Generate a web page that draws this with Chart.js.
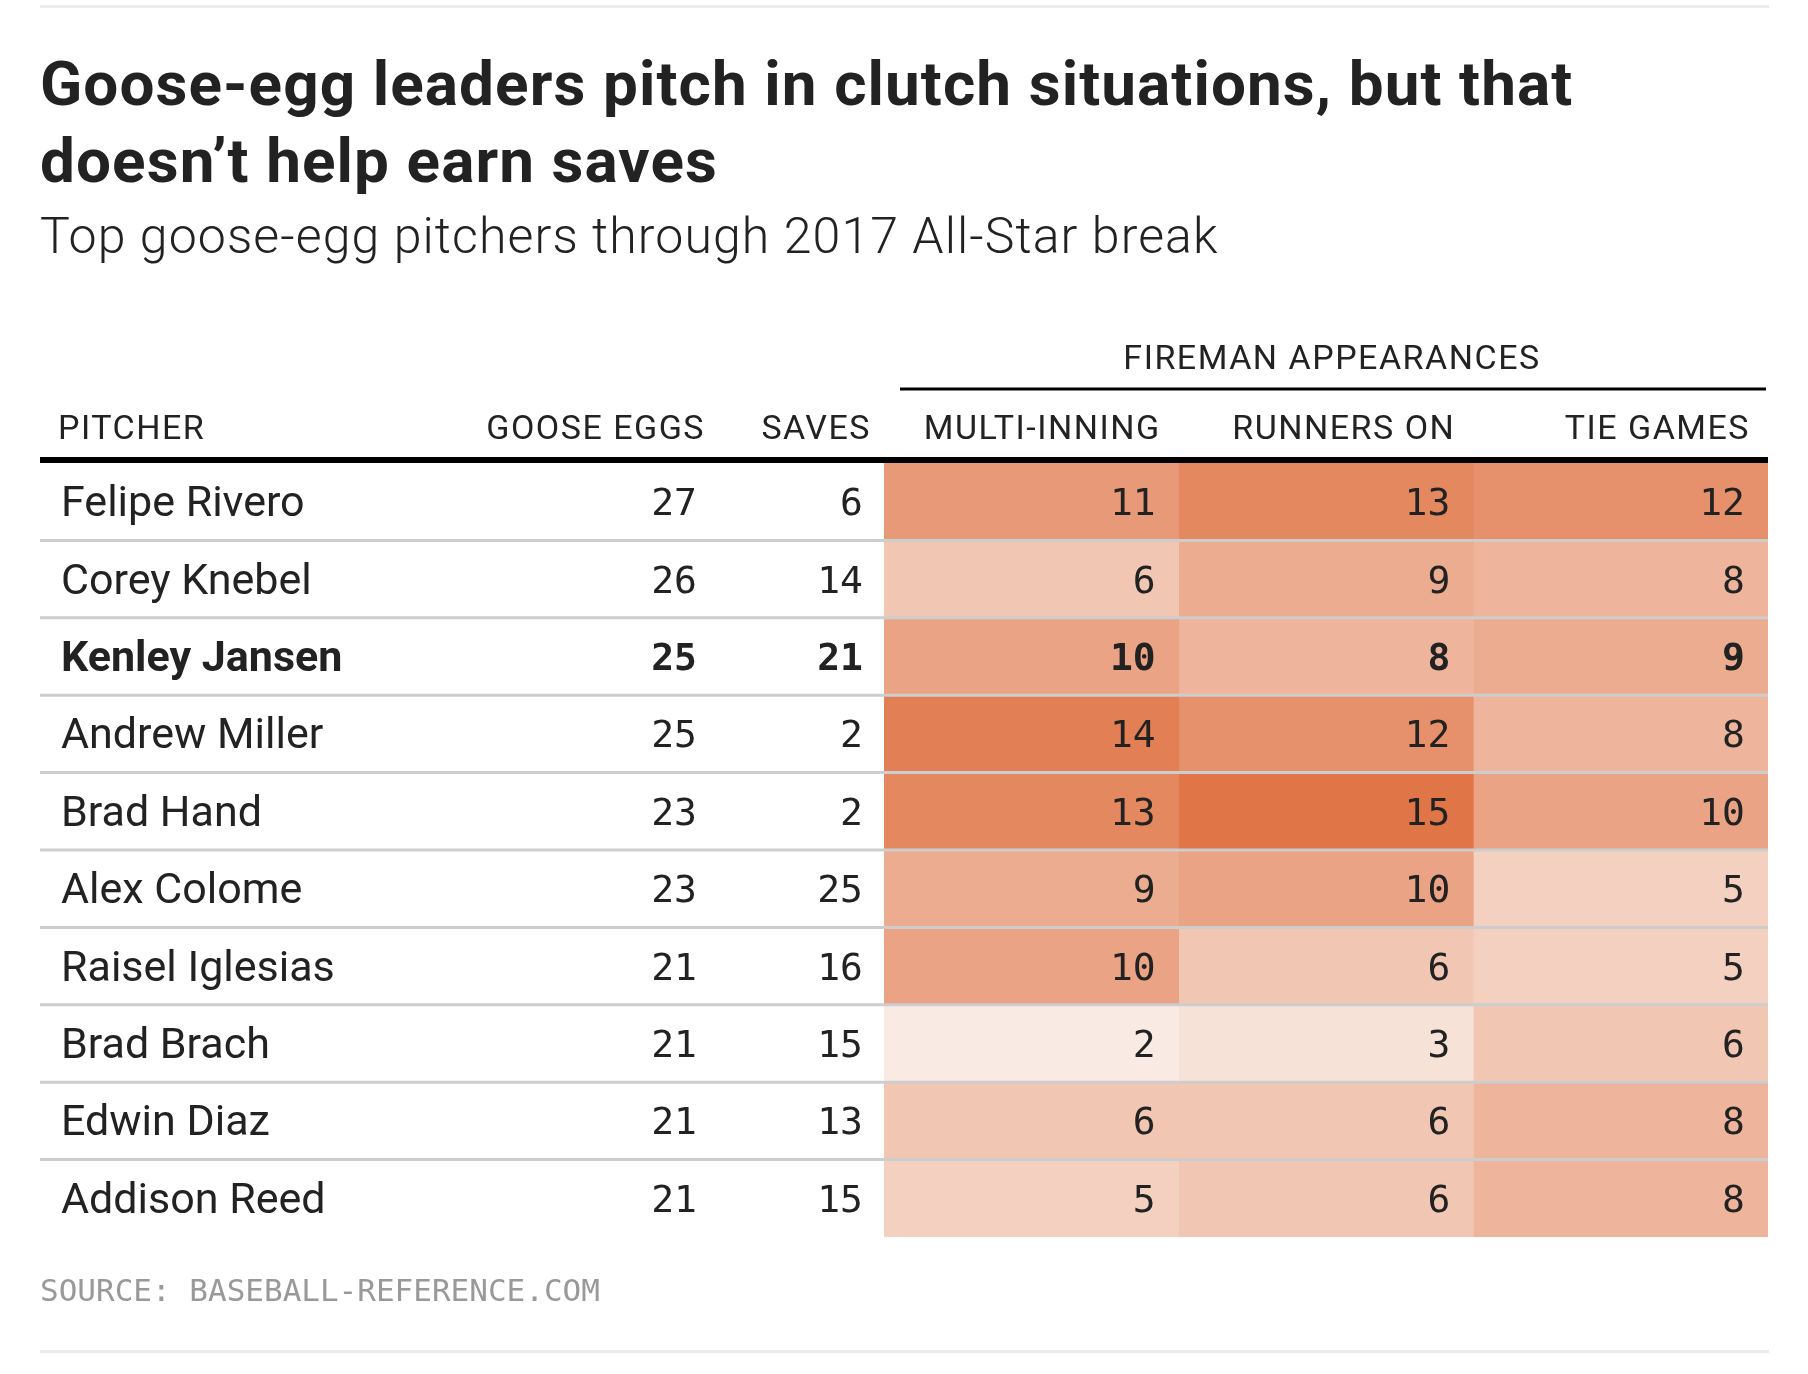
<!DOCTYPE html>
<html>
<head>
<meta charset="utf-8">
<script src="https://cdn.jsdelivr.net/npm/chart.js@4/dist/chart.umd.min.js"></script>
<style>
  html, body { margin: 0; padding: 0; background: #fff; }
  #page { position: relative; width: 1808px; height: 1374px; overflow: hidden; }
  #chartBox { position: absolute; left: 0; top: 0; width: 1808px; height: 1374px; }
  .rule { position: absolute; left: 40px; width: 1729px; height: 3px; background: #ececec; }
  h1 {
    position: absolute; left: 40px; top: 45px; margin: 0; width: 1760px;
    font: 700 62px/77px Roboto, sans-serif; letter-spacing: 1.1px; color: #222;
  }
  h2 {
    position: absolute; left: 40px; top: 206px; margin: 0;
    font: 300 50px/60px Roboto, sans-serif; letter-spacing: 1.1px; color: #222;
  }
  .source {
    position: absolute; left: 40px; top: 1272px; margin: 0;
    font: 400 31px/36px "DejaVu Sans Mono", monospace; color: #999;
  }
</style>
</head>
<body>
<div id="page">
  <div id="chartBox"><canvas id="gooseChart"></canvas></div>
  <div class="rule" style="top:5px"></div>
  <h1>Goose-egg leaders pitch in clutch situations, but that<br>doesn’t help earn saves</h1>
  <h2>Top goose-egg pitchers through 2017 All-Star break</h2>
  <div class="source">SOURCE: BASEBALL-REFERENCE.COM</div>
  <div class="rule" style="top:1350px"></div>
</div>
<script>
// table data
const pitchers = ['Felipe Rivero', 'Corey Knebel', 'Kenley Jansen', 'Andrew Miller', 'Brad Hand',
                  'Alex Colome', 'Raisel Iglesias', 'Brad Brach', 'Edwin Diaz', 'Addison Reed'];
const gooseEggs = [27, 26, 25, 25, 23, 23, 21, 21, 21, 21];
const saves = [6, 14, 21, 2, 2, 25, 16, 15, 13, 15];
const multiInning = [11, 6, 10, 14, 13, 9, 10, 2, 6, 5];
const runnersOn = [13, 9, 8, 12, 15, 10, 6, 3, 6, 6];
const tieGames = [12, 8, 9, 8, 10, 5, 5, 6, 8, 8];
const highlighted = 'Kenley Jansen';

const groupLabel = 'FIREMAN APPEARANCES';
const fireHeaders = ['MULTI-INNING', 'RUNNERS ON', 'TIE GAMES'];
const fireColumns = [multiInning, runnersOn, tieGames];

const maxVal = Math.max(...multiInning, ...runnersOn, ...tieGames);
const lowColor = [253, 253, 252];
const highColor = [224, 118, 72];

function heatColor(v) {
    var t = v / maxVal;
    var c = lowColor.map((lo, i) => Math.round(lo + (highColor[i] - lo) * t));
    return 'rgb(' + c.join(',') + ')';
}

const textColor = '#222';
const nameFont = (bold) => (bold ? '700 ' : '400 ') + '43px Roboto, sans-serif';
const numFont = (bold) => (bold ? '700 ' : '400 ') + '38px "DejaVu Sans Mono", monospace';
const headFont = '400 34px Roboto, sans-serif';

const tablePlugin = {
    id: 'tableText',
    afterDatasetsDraw(chart) {
        var ctx = chart.ctx;
        var xS = chart.scales.x;
        var yS = chart.scales.y;
        var area = chart.chartArea;
        var band = yS.getPixelForValue(1) - yS.getPixelForValue(0);
        var left = 40;
        ctx.save();

        // row separators
        ctx.strokeStyle = '#cdcdcd';
        ctx.lineWidth = 3;
        for (var i = 0; i < pitchers.length - 1; i++) {
            var yl = yS.getPixelForValue(i) + band / 2;
            ctx.beginPath();
            ctx.moveTo(left, yl);
            ctx.lineTo(area.right, yl);
            ctx.stroke();
        }

        // header rules
        ctx.strokeStyle = '#000';
        ctx.lineWidth = 6;
        ctx.beginPath();
        ctx.moveTo(left, area.top - 3);
        ctx.lineTo(area.right, area.top - 3);
        ctx.stroke();
        ctx.lineWidth = 3;
        ctx.beginPath();
        ctx.moveTo(area.left + 16, 389);
        ctx.lineTo(area.right - 2, 389);
        ctx.stroke();

        // headers
        ctx.fillStyle = textColor;
        ctx.font = headFont;
        ctx.letterSpacing = '1.5px';
        ctx.textBaseline = 'alphabetic';
        ctx.textAlign = 'center';
        ctx.fillText(groupLabel, (area.left + area.right) / 2 + 6, 369);
        ctx.textAlign = 'left';
        ctx.fillText('PITCHER', 58, 439);
        ctx.textAlign = 'right';
        ctx.fillText('GOOSE EGGS', 705, 439);
        ctx.fillText('SAVES', 871, 439);
        fireHeaders.forEach((h, c) => {
            ctx.fillText(h, xS.getPixelForValue(c + 1) - 18, 439);
        });
        ctx.letterSpacing = '0px';

        // rows
        pitchers.forEach((name, i) => {
            var yc = yS.getPixelForValue(i);
            var bold = name === highlighted;
            ctx.textAlign = 'left';
            ctx.font = nameFont(bold);
            ctx.fillText(name, 61, yc + 14.5);
            ctx.textAlign = 'right';
            ctx.font = numFont(bold);
            ctx.fillText(String(gooseEggs[i]), 697, yc + 13.5);
            ctx.fillText(String(saves[i]), 863, yc + 13.5);
            fireColumns.forEach((col, c) => {
                ctx.fillText(String(col[i]), xS.getPixelForValue(c + 1) - 23, yc + 13.5);
            });
        });
        ctx.restore();
    }
};

var ctx = document.getElementById('gooseChart');
var chart = new Chart(ctx, {
    type: 'bar',
    data: {
        labels: pitchers,
        datasets: fireColumns.map((col, c) => ({
            label: fireHeaders[c],
            data: col.map(() => 1),
            backgroundColor: col.map(heatColor),
            borderWidth: 0,
            categoryPercentage: 1,
            barPercentage: 1
        }))
    },
    options: {
        indexAxis: 'y',
        responsive: true,
        maintainAspectRatio: false,
        animation: false,
        layout: { padding: { left: 884, right: 40, top: 463, bottom: 137 } },
        scales: {
            x: { type: 'linear', min: 0, max: 3, stacked: true, display: false },
            y: { type: 'category', stacked: true, display: false }
        },
        plugins: {
            legend: { display: false },
            tooltip: { enabled: false }
        }
    },
    plugins: [tablePlugin]
});
</script>
</body>
</html>
